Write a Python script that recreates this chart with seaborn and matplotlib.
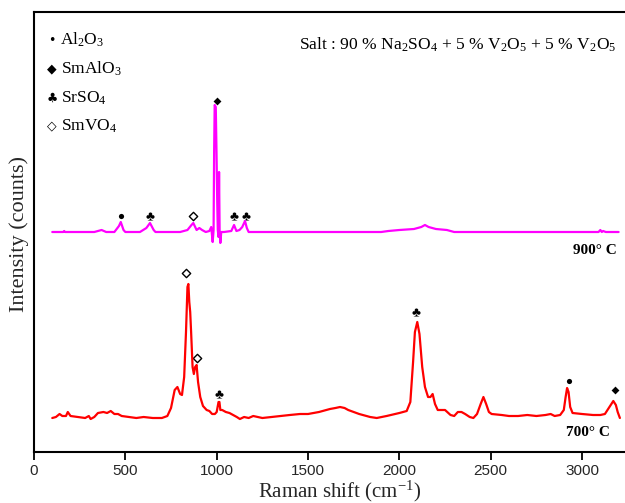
import numpy as np
import pandas as pd
import seaborn as sns
import matplotlib
matplotlib.use("Agg")
import matplotlib.pyplot as plt

# Raman spectrum after exposure at 900 °C (shift in cm^-1, intensity in a.u.)
shift_900 = [100, 160, 165, 170, 330, 350, 370, 395, 440, 465, 475, 490, 500,
             580, 615, 635, 655, 665, 800, 840, 862, 872, 890, 905, 920, 940,
             960, 970, 978, 983, 986, 989, 995, 999, 1003, 1006, 1010, 1013,
             1016, 1020, 1025, 1040, 1080, 1095, 1108, 1125, 1140, 1155, 1165,
             1175, 1900, 1940, 2000, 2080, 2120, 2140, 2160, 2200, 2260, 2300,
             3090, 3100, 3108, 3115, 3130, 3200]
int_900 = [220, 220, 221, 220, 220, 221, 222, 220, 220, 226, 230, 222, 220,
           220, 224, 229, 222, 220, 220, 222, 227, 229, 222, 224, 222, 220,
           221, 225, 210, 222, 300, 347, 345, 300, 250, 222, 215, 280,
           222, 209, 220, 220, 221, 227, 221, 222, 225, 231, 224,
           220, 220, 221, 222, 223, 225, 227, 225, 223, 222, 220,
           220, 222, 220, 221, 220, 220]

# Raman spectrum after exposure at 700 °C
shift_700 = [100, 120, 140, 155, 175, 185, 200, 240, 280, 300, 310, 330, 350,
             380, 400, 420, 440, 460, 480, 520, 560, 600, 650, 700, 730, 750,
             770, 785, 800, 810, 822, 832, 840, 845, 850, 855, 860, 868, 875,
             882, 890, 898, 910, 925, 945, 960, 975, 990, 1000, 1010, 1015,
             1020, 1030, 1050, 1070, 1090, 1110, 1127, 1150, 1175, 1200, 1250,
             1300, 1350, 1400, 1456, 1500, 1560, 1620, 1650, 1675, 1700, 1720,
             1780, 1840, 1876, 1930, 2000, 2040, 2060, 2075, 2085, 2098, 2110,
             2125, 2140, 2157, 2170, 2182, 2195, 2210, 2230, 2250, 2280, 2300,
             2320, 2340, 2360, 2385, 2405, 2425, 2445, 2460, 2475, 2490, 2505,
             2560, 2600, 2650, 2700, 2750, 2800, 2828, 2850, 2880, 2900, 2910,
             2918, 2926, 2935, 2948, 3000, 3060, 3100, 3125, 3150, 3171, 3185,
             3195, 3207]
int_700 = [34, 35, 38, 36, 36, 40, 36, 35, 34, 36, 33, 35, 39,
           40, 39, 41, 38, 38, 36, 35, 34, 35, 34, 34, 36, 44,
           62, 65, 58, 57, 75, 120, 165, 168, 150, 140, 120, 85, 78,
           85, 87, 70, 55, 46, 42, 41, 38, 38, 40, 50, 50,
           42, 42, 40, 39, 37, 35, 33, 35, 34, 36, 34,
           35, 36, 37, 38, 38, 40, 43, 44, 45, 44, 42,
           38, 35, 34, 36, 39, 41, 50, 90, 120, 130, 118,
           85, 65, 55, 55, 58, 48, 42, 42, 42, 37, 36,
           40, 40, 38, 35, 34, 38, 48, 55, 48, 40, 38,
           37, 36, 36, 37, 36, 37, 38, 36, 37, 42, 55,
           64, 60, 45, 39, 38, 37, 37, 38, 45, 51, 47,
           40, 34]

# Phase assignments marked above the peaks
al2o3_x, al2o3_y = [474, 2930], [236, 71]
smalo3_x, smalo3_y = [1003, 3178], [351, 62]
srso4_x, srso4_y = [635, 1095, 1160, 1014, 2089], [236, 236, 236, 58, 140]
smvo4_x, smvo4_y = [870, 832, 892], [236, 179, 94]

phase_labels = ["Al$_2$O$_3$", "SmAlO$_3$", "SrSO$_4$", "SmVO$_4$"]
temp_labels = ["900° C", "700° C"]
x_ticks = [0, 500, 1000, 1500, 2000, 2500, 3000]

sns.set_theme(style="white")
plt.rcParams["font.family"] = ["Liberation Serif", "DejaVu Sans"]
plt.rcParams["mathtext.fontset"] = "custom"
plt.rcParams["mathtext.rm"] = "Liberation Serif"
plt.rcParams["mathtext.default"] = "regular"

fig = plt.figure(figsize=(6.25, 5.03), dpi=100)
ax = fig.add_axes([34 / 625, 1 - 452 / 503, 1 - 34 / 625, 440 / 503])

df900 = pd.DataFrame({"shift": shift_900, "intensity": int_900})
df700 = pd.DataFrame({"shift": shift_700, "intensity": int_700})
sns.lineplot(data=df900, x="shift", y="intensity", color="#FF00FF", lw=1.6,
             estimator=None, sort=False, ax=ax)
sns.lineplot(data=df700, x="shift", y="intensity", color="#FF0000", lw=1.6,
             estimator=None, sort=False, ax=ax)

sns.scatterplot(x=al2o3_x, y=al2o3_y, marker="o", s=14, color="black",
                linewidth=0, ax=ax)
sns.scatterplot(x=smalo3_x, y=smalo3_y, marker="D", s=16, color="black",
                linewidth=0, ax=ax)
sns.scatterplot(x=srso4_x, y=srso4_y, marker=r"$\clubsuit$", s=34,
                color="black", linewidth=0, ax=ax)
sns.scatterplot(x=smvo4_x, y=smvo4_y, marker="D", s=18, color="white",
                edgecolor="black", linewidth=1.0, ax=ax)

ax.set_xlim(0, 3235)
ax.set_ylim(0, 440)
ax.set_xticks(x_ticks)
ax.set_yticks([])
ax.tick_params(axis="x", direction="out", length=6, width=1.3, color="black",
               bottom=True, labelsize=11, pad=2.5)
for lab in ax.get_xticklabels():
    lab.set_fontfamily("Liberation Sans")

for side in ["left", "bottom", "top"]:
    ax.spines[side].set_color("black")
    ax.spines[side].set_linewidth(1.5)
ax.spines["right"].set_visible(False)

ax.set_xlabel("Raman shift (cm$^{-1}$)", fontsize=15, va="baseline")
ax.xaxis.set_label_coords((340 - 34) / 591, (452 - 497.5) / 440)
ax.set_ylabel("Intensity (counts)", fontsize=16)
ax.yaxis.set_label_coords((29 - 34) / 591, 0.495)

# Phase key in the upper-left corner
key_symbols = ["•", "◆", "♣", "◇"]
key_rows = [40, 69, 98, 126]
for sym, lab, row in zip(key_symbols, phase_labels, key_rows):
    y = 1 - (row - 12) / 440
    ax.text(18 / 591, y, sym, transform=ax.transAxes, family="DejaVu Sans",
            fontsize=9, ha="center", va="center", color="black")
    ax.text(27 / 591 if sym != "•" else 26 / 591, y, lab, transform=ax.transAxes,
            fontsize=12.5, ha="left", va="center", color="black")

ax.text(582 / 591, 1 - (45 - 12) / 440,
        "Salt : 90 % Na$_2$SO$_4$ + 5 % V$_2$O$_5$ + 5 % V$_2$O$_5$",
        transform=ax.transAxes, fontsize=12.6, ha="right", va="center",
        color="black")

ax.text(3069, 452 - 250, temp_labels[0], fontsize=11, fontweight="bold",
        ha="center", va="center", color="black")
ax.text(3030, 452 - 432, temp_labels[1], fontsize=11, fontweight="bold",
        ha="center", va="center", color="black")

fig.savefig("out.png", dpi=100)
